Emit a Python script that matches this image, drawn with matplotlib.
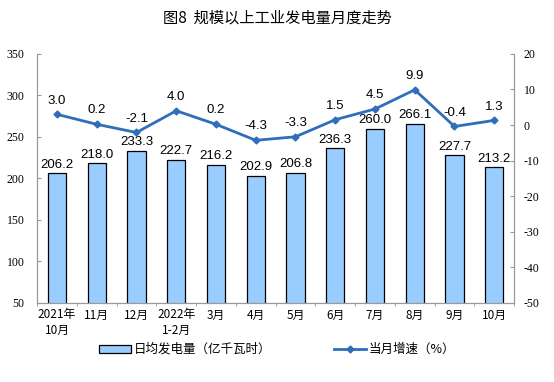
import matplotlib.pyplot as plt
import numpy as np

plt.rcParams['font.family'] = ['Noto Sans CJK SC', 'DejaVu Sans']
plt.rcParams['axes.unicode_minus'] = False

months = ['2021年\n10月', '11月', '12月', '2022年\n1-2月', '3月', '4月', '5月',
          '6月', '7月', '8月', '9月', '10月']
daily_gen = [206.2, 218.0, 233.3, 222.7, 216.2, 202.9, 206.8, 236.3, 260.0, 266.1, 227.7, 213.2]
growth = [3.0, 0.2, -2.1, 4.0, 0.2, -4.3, -3.3, 1.5, 4.5, 9.9, -0.4, 1.3]
left_ticks = list(range(50, 351, 50))
right_ticks = list(range(-50, 21, 10))

x = np.arange(len(months))
fig = plt.figure(figsize=(5.54, 3.82), dpi=100)
ax = fig.add_axes([0.067, 0.207, 0.861, 0.652])
ax2 = ax.twinx()

ax.bar(x, daily_gen, width=0.46, bottom=0, color='#99CCFF', edgecolor='black',
       linewidth=0.9, label='日均发电量（亿千瓦时）', zorder=2)
ax.set_ylim(50, 350)
ax.set_xlim(-0.5, 11.5)
for xi, v in zip(x, daily_gen):
    ax.text(xi, v + 3, f'{v:.1f}', ha='center', va='bottom', fontsize=9.5,
            family='Liberation Sans')

ax2.plot(x, growth, color='#2F6EBA', linewidth=2, marker='D', markersize=3.5,
         label='当月增速（%）', zorder=3)
ax2.set_ylim(-50, 20)
for xi, v in zip(x, growth):
    ax2.text(xi, v + 2.2, f'{v:.1f}', ha='center', va='bottom', fontsize=9.5,
             family='Liberation Sans')

ax.set_yticks(left_ticks)
ax2.set_yticks(right_ticks)
for a in (ax, ax2):
    a.spines['top'].set_visible(False)
    for s in ('left', 'right', 'bottom'):
        a.spines[s].set_color('#999999')
    a.tick_params(axis='y', direction='in', length=3, color='#999999')
ax.tick_params(axis='y', pad=9)
ax2.tick_params(axis='y', pad=7)

ax.set_xticks(x)
ax.set_xticklabels(months, fontsize=8.5, linespacing=1.2)
ax.tick_params(axis='x', length=0, pad=4)
ax.set_xticks(np.arange(-0.5, 12, 1), minor=True)
ax.tick_params(axis='x', which='minor', direction='out', length=2, color='#999999')

fig.suptitle('图8  规模以上工业发电量月度走势', x=0.5, y=0.975, fontsize=11)

h1, l1 = ax.get_legend_handles_labels()
h2, l2 = ax2.get_legend_handles_labels()
fig.legend(h1 + h2, l1 + l2, loc='center', bbox_to_anchor=(0.5, 0.085), ncol=2,
           frameon=False, fontsize=9, columnspacing=5, handlelength=2.6,
           handleheight=0.6, handletextpad=0.2)

fig.canvas.draw()
for a in (ax, ax2):
    for lab in a.get_yticklabels():
        lab.set_fontfamily(['Liberation Serif', 'DejaVu Serif'])
        lab.set_fontsize(8.5)

fig.savefig('out.png', dpi=100)
